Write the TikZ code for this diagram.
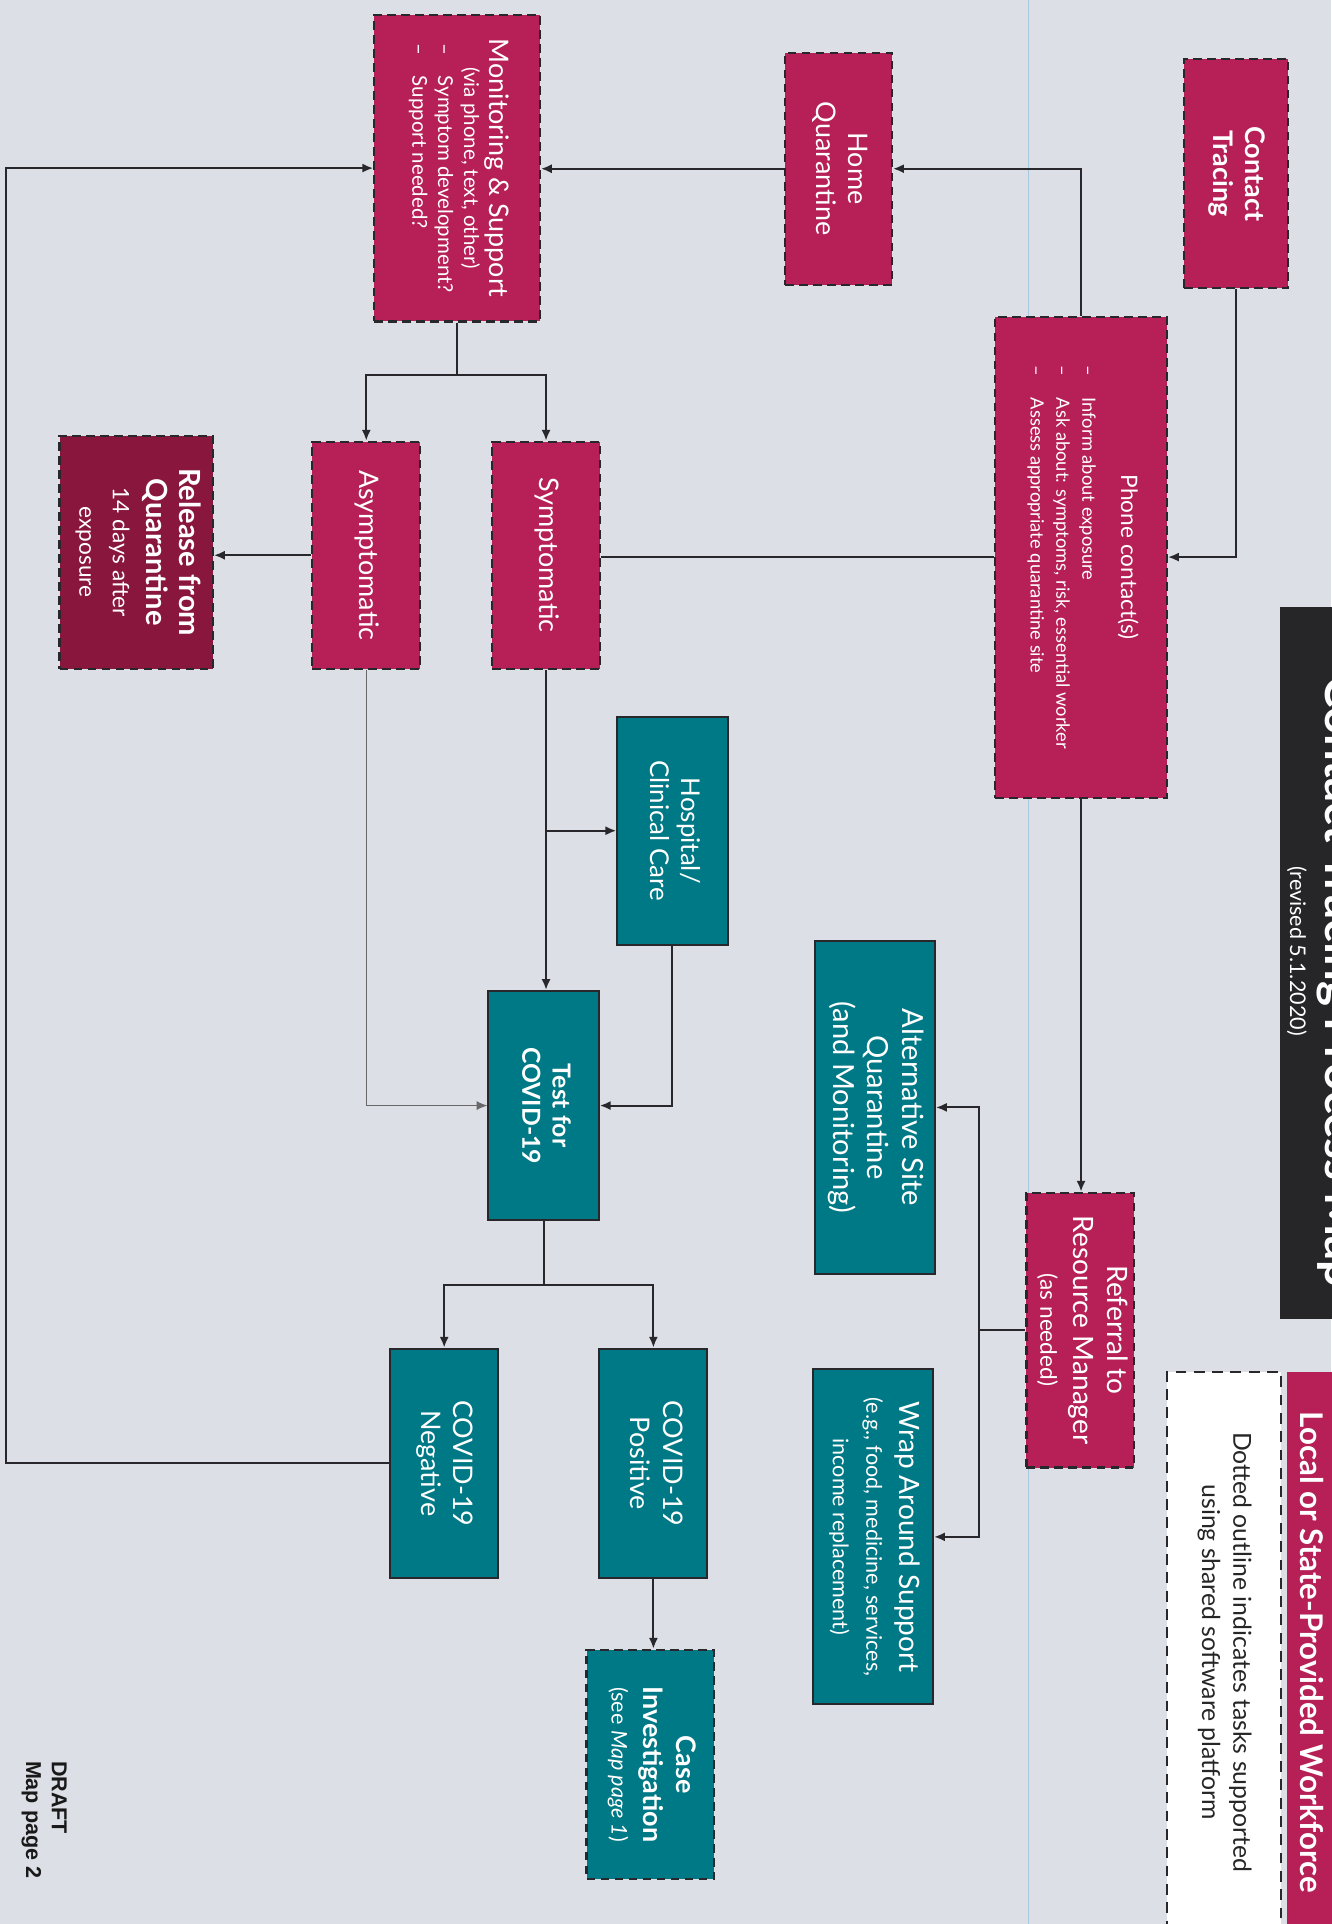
\documentclass[tikz,border=0pt]{standalone}
\usepackage{fontspec}
\setmainfont{Lato}
\newfontfamily\draftfont{Liberation Sans}
\usetikzlibrary{arrows.meta,calc}

\definecolor{paper}{RGB}{220,223,229}
\definecolor{rose}{RGB}{182,32,86}
\definecolor{wine}{RGB}{137,22,60}
\definecolor{petrol}{RGB}{0,121,134}
\definecolor{ink}{RGB}{40,40,44}
\definecolor{fold}{RGB}{168,200,226}
\definecolor{titleblk}{RGB}{38,38,40}

\newcommand{\vtxt}[2][c]{\rotatebox{-90}{\begin{tabular}{@{}#1@{}}#2\end{tabular}}}
\newcommand{\boxsz}{\fontsize{12}{14.5}\selectfont}
\newcommand{\notesz}{\mdseries\fontsize{10}{12}\selectfont}

\tikzset{
  sz/.style 2 args={minimum width=#1*0.02cm, minimum height=#2*0.02cm},
  rosebox/.style={rectangle, inner sep=0pt, fill=rose, draw=ink, line width=1pt, dash pattern=on 4pt off 2.5pt, text=white, font=\boxsz},
  winebox/.style={rosebox, fill=wine},
  petrolbox/.style={rectangle, inner sep=0pt, fill=petrol, draw=ink, line width=0.9pt, text=white, font=\boxsz},
  petroldash/.style={petrolbox, line width=1pt, dash pattern=on 4pt off 2.5pt},
  flow/.style={draw=ink, line width=0.9pt},
  faintflow/.style={draw=ink!70, line width=0.5pt},
}

\begin{document}
\begin{tikzpicture}[x=0.02cm, y=-0.02cm, >={Latex[length=5pt,width=4.2pt]}]
\fill[paper] (0,0) rectangle (1085,1568);
\useasboundingbox (0,0) rectangle (1085,1568);
\draw[fold, line width=0.7pt] (838,0) -- (838,1568);

% header and legend
\node[fill=titleblk, sz={52}{580}, inner sep=0pt] (ttl) at (1069,785) {};
\node[text=white, font=\bfseries\fontsize{22}{26}\selectfont, inner sep=0pt, anchor=west] (ttlname) at (1073,800) {\rotatebox{-90}{Contact Tracing Process Map}};
\node[text=white, font=\fontsize{10}{12}\selectfont, inner sep=0pt] (rev) at (1057,775) {\rotatebox{-90}{(revised 5.1.2020)}};
\node[rectangle, fill=white, draw=ink, line width=1pt, dash pattern=on 5pt off 3.5pt, sz={93}{457}, text=black!85, font=\fontsize{11.5}{14.5}\selectfont] (lgd) at (997.5,1346.5) {\vtxt{Dotted outline indicates tasks supported\\using shared software platform}};
\node[fill=rose, sz={40}{457}, inner sep=0pt, text=white, font=\bfseries\fontsize{14.5}{16}\selectfont] (wf) at (1069,1346.5) {\rotatebox{-90}{Local or State-Provided Workforce}};
\node[text=black!90, font=\draftfont\bfseries\fontsize{10}{12}\selectfont, inner sep=0pt] (drf) at (36,1483) {\vtxt[l]{DRAFT\\Map page 2}};

% boxes
\node[rosebox, sz={85}{187}, font=\bfseries\fontsize{12.5}{15}\selectfont] (ct) at (1007.5,141.5) {\vtxt{Contact\\Tracing}};
\node[rosebox, sz={140}{392}, font=\fontsize{8.5}{12}\selectfont] (pc) at (881,454) {\vtxt{{\fontsize{10.5}{13}\selectfont Phone contact(s)}\\[6pt]
  \begin{tabular}{@{}l@{}}--\hspace{1.2em}Inform about exposure\\--\hspace{1.2em}Ask about: symptoms, risk, essential worker\\--\hspace{1.2em}Assess appropriate quarantine site\end{tabular}}};
\node[rosebox, sz={87}{189}, font=\fontsize{12.5}{15}\selectfont] (hq) at (683.5,137.5) {\vtxt{Home\\Quarantine}};
\node[rosebox, sz={135}{250}, font=\fontsize{9.5}{12}\selectfont] (ms) at (372.5,137) {\vtxt{{\fontsize{12.5}{15}\selectfont Monitoring \& Support}\\(via phone, text, other)\\
  \begin{tabular}{@{}l@{}}--\hspace{1em}Symptom development?\\--\hspace{1em}Support needed?\end{tabular}}};
\node[rosebox, sz={88}{185}, font=\fontsize{12.5}{15}\selectfont] (sym) at (445,452.5) {\vtxt{Symptomatic}};
\node[rosebox, sz={88}{185}, font=\fontsize{12.5}{15}\selectfont] (asym) at (298.5,452.5) {\vtxt{Asymptomatic}};
\node[winebox, sz={125}{190}, font=\bfseries\fontsize{13.5}{15.5}\selectfont] (rel) at (111,450) {\vtxt{Release from\\Quarantine\\{\mdseries\fontsize{10.5}{12}\selectfont 14 days after}\\{\mdseries\fontsize{10.5}{12}\selectfont exposure}}};
\node[petrolbox, sz={90}{186}] (hosp) at (548,677) {\vtxt{Hospital/\\Clinical Care}};
\node[petrolbox, sz={90}{187}, font=\bfseries\fontsize{11.5}{14}\selectfont] (test) at (443,901) {\vtxt{Test for\\COVID-19}};
\node[petrolbox, sz={98}{271}, font=\fontsize{13.5}{16}\selectfont] (alt) at (713,902.5) {\vtxt{Alternative Site\\Quarantine\\(and Monitoring)}};
\node[rosebox, sz={88}{224}, font=\fontsize{13}{15.5}\selectfont] (ref) at (880.5,1084) {\vtxt{Referral to\\Resource Manager\\{\mdseries\fontsize{10.5}{12}\selectfont (as needed)}}};
\node[petrolbox, sz={98}{273}, font=\fontsize{13}{15.5}\selectfont] (wrap) at (711.5,1252.5) {\vtxt{Wrap Around Support\\{\notesz (e.g., food, medicine, services,}\\{\notesz income replacement)}}};
\node[petrolbox, sz={88}{187}, font=\fontsize{12.5}{15}\selectfont] (pos) at (532.5,1192.5) {\vtxt{COVID-19\\Positive}};
\node[petrolbox, sz={88}{187}, font=\fontsize{12.5}{15}\selectfont] (neg) at (362,1192.5) {\vtxt{COVID-19\\Negative}};
\node[petroldash, sz={104}{187}, font=\bfseries\fontsize{12.5}{15}\selectfont] (ci) at (530,1438) {\vtxt{Case\\Investigation\\{\notesz (see \textit{Map page 1})}}};

% connectors
\draw[flow,->] (ct.south) |- (pc.east);
\draw[flow,->] (pc.north) |- (hq.east);
\draw[flow,->] (hq.west) -- (ms.east |- hq.west);
\draw[flow] (pc.west) -- (sym.east |- pc.west);
\draw[flow,->] (pc.south) -- (pc.south |- ref.north);
\coordinate (msb) at ($(ms.south)+(0,43)$);
\draw[flow] (ms.south) -- (msb);
\draw[flow,->] (msb) -| (sym.north);
\draw[flow,->] (msb) -| (asym.north);
\draw[flow,->] (asym.west) -- (rel.east |- asym.west);
\draw[flow,->] (sym.south) -- (sym.south |- test.north);
\draw[flow,->] (sym.south |- hosp.west) -- (hosp.west);
\draw[flow,->] (hosp.south) |- (test.east);
\draw[faintflow,->] (asym.south) |- (test.west);
\coordinate (testb) at ($(test.south)+(0,52)$);
\draw[flow] (test.south) -- (testb);
\draw[flow,->] (testb) -| (pos.north);
\draw[flow,->] (testb) -| (neg.north);
\draw[flow,->] (pos.south) -- (pos.south |- ci.north);
\coordinate (lft) at (5,0);
\draw[flow,->] (neg.west) -| (lft |- ms.west) -- (ms.west);
\coordinate (refb) at ($(ref.west)+(-38,0)$);
\draw[flow] (ref.west) -- (refb);
\draw[flow,->] (refb) |- (alt.east);
\draw[flow,->] (refb) |- (wrap.east);
\end{tikzpicture}
\end{document}
